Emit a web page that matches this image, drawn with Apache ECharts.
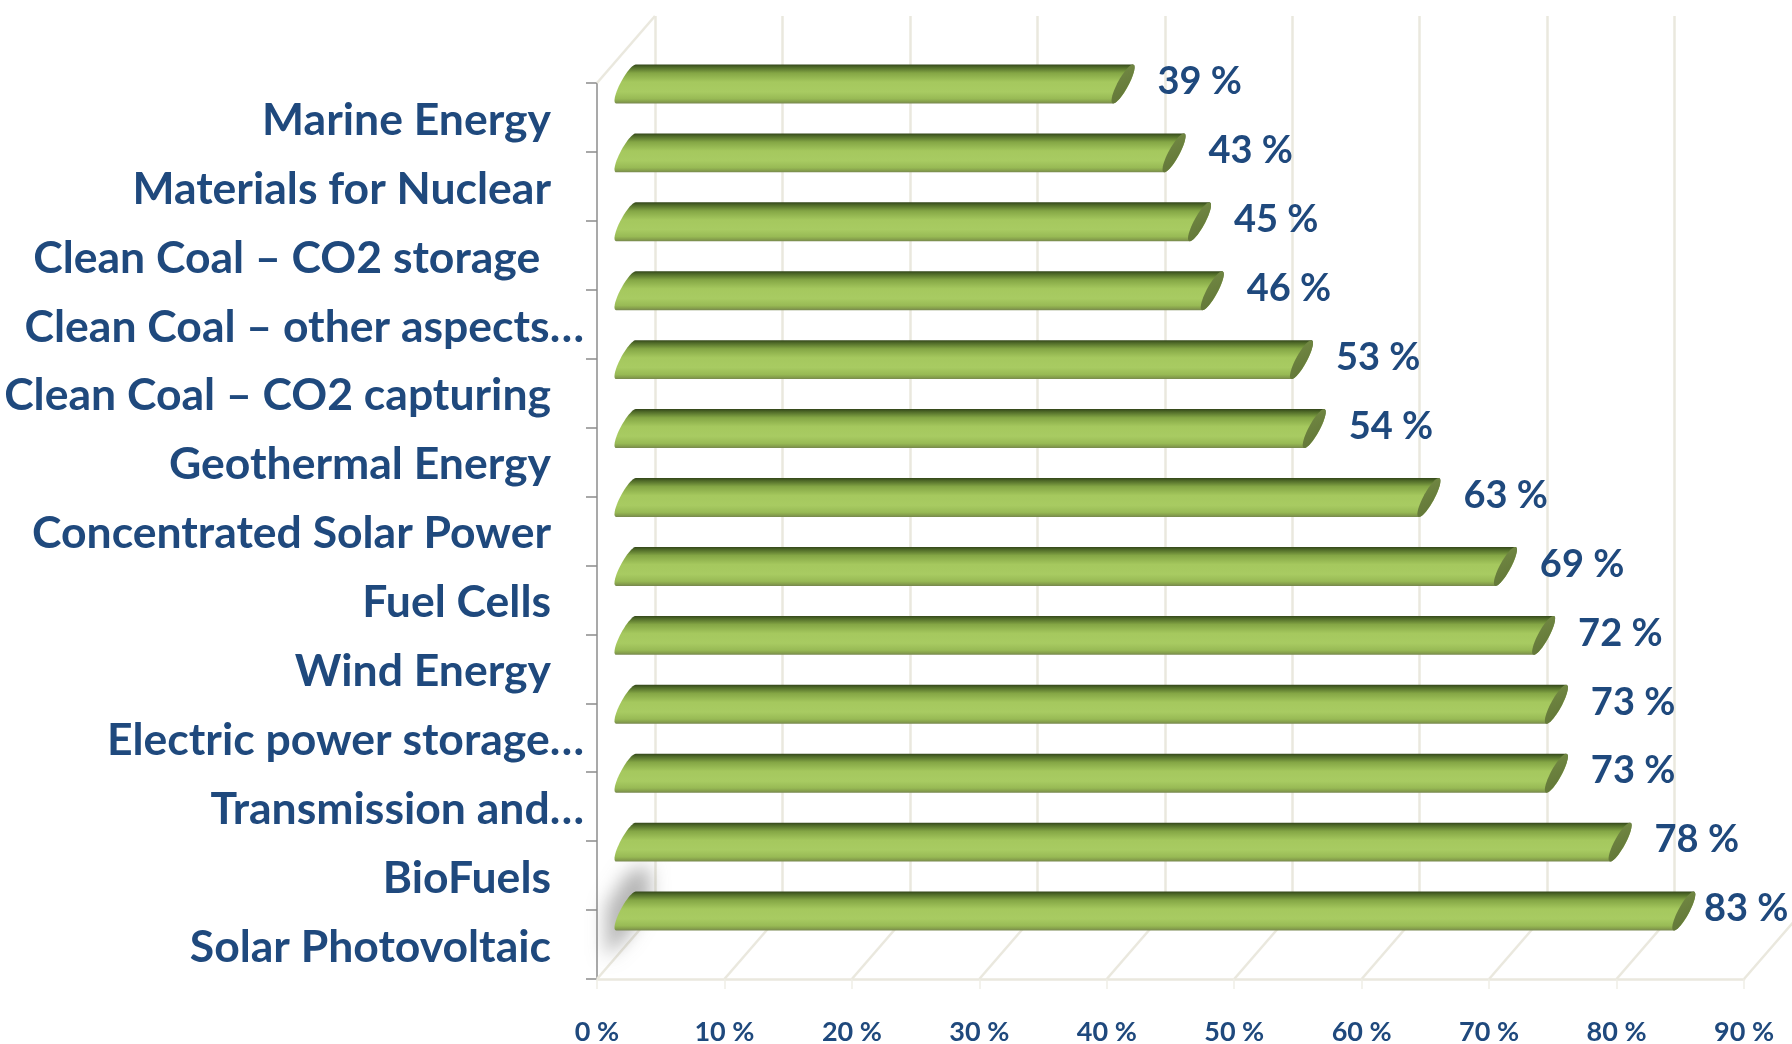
<!DOCTYPE html>
<html>
<head>
<meta charset="utf-8">
<script src="https://cdn.jsdelivr.net/npm/echarts@6/dist/echarts.min.js"></script>
<style>
html,body{margin:0;padding:0;background:#ffffff;}
#chart{width:1792px;height:1044px;}
</style>
</head>
<body>
<div id="chart"></div>
<script>
// ---------- data ----------
const categories = [
  'Marine Energy',
  'Materials for Nuclear',
  'Clean Coal – CO2 storage ',
  'Clean Coal – other aspects…',
  'Clean Coal – CO2 capturing',
  'Geothermal Energy',
  'Concentrated Solar Power',
  'Fuel Cells',
  'Wind Energy',
  'Electric power storage…',
  'Transmission and…',
  'BioFuels',
  'Solar Photovoltaic'
];
const values = [39, 43, 45, 46, 53, 54, 63, 69, 72, 73, 73, 78, 83];
const xTicks = [0, 10, 20, 30, 40, 50, 60, 70, 80, 90];
const xMin = 0, xMax = 90, xStep = 10;

// ---------- layout / style ----------
const FRONT = {left: 597, top: 83, width: 1147, height: 896};
const DEPTH_X = 58, DEPTH_Y = -67;          // full depth offset of the back wall
const TEXT_BLUE = '#1F497D';
const GRID_BEIGE = '#EAE8DE';
const FONT = 'Lato';

function gridAt(k) {
  return {
    left: FRONT.left + DEPTH_X * k,
    top: FRONT.top + DEPTH_Y * k,
    width: FRONT.width,
    height: FRONT.height,
    outerBoundsMode: 'none',
    containLabel: false
  };
}

const chart = echarts.init(document.getElementById('chart'), null, {renderer: 'canvas'});

const bodyGradient = new echarts.graphic.LinearGradient(0, 0, 0, 1, [
  {offset: 0.00, color: '#33461a'},
  {offset: 0.07, color: '#4f6a28'},
  {offset: 0.22, color: '#84a645'},
  {offset: 0.45, color: '#a5c85e'},
  {offset: 0.70, color: '#a8cb62'},
  {offset: 0.88, color: '#98ba55'},
  {offset: 0.95, color: '#86a04c'},
  {offset: 1.00, color: '#77874f'}
]);
const capGradient = new echarts.graphic.LinearGradient(0, 0, 1, 1, [
  {offset: 0, color: '#748b45'},
  {offset: 1, color: '#5f7335'}
]);

function renderBar(params, api) {
  const v = api.value(0), c = api.value(1);
  const p0 = api.coord([xMin, c]);
  const p1 = api.coord([v, c]);
  const band = api.size([0, 1])[1];
  const R = band * 0.565 / 2;
  const A = 11.5;
  const C = -0.85 * R;
  const B = Math.sqrt(R * R - C * C);
  const tt = Math.atan2(-B, -C);
  const N = 24;
  const pts = [];
  for (let i = 0; i <= N; i++) {
    const t = tt - Math.PI * i / N;
    pts.push([p0[0] + A * Math.cos(t), p0[1] + B * Math.sin(t) + C * Math.cos(t)]);
  }
  for (let i = 0; i <= N; i++) {
    const t = tt + Math.PI - Math.PI * i / N;
    pts.push([p1[0] + A * Math.cos(t), p1[1] + B * Math.sin(t) + C * Math.cos(t)]);
  }
  const cap = [];
  for (let i = 0; i < 48; i++) {
    const t = 2 * Math.PI * i / 48;
    cap.push([p1[0] + A * Math.cos(t), p1[1] + B * Math.sin(t) + C * Math.cos(t)]);
  }
  const labelX = Math.min(p1[0] + A + 23, api.getWidth() - 88);
  return {
    type: 'group',
    children: [
      {type: 'polygon', shape: {points: pts}, style: {fill: bodyGradient}},
      {type: 'polygon', shape: {points: cap}, style: {fill: capGradient}},
      {
        type: 'text',
        style: {
          text: v + ' %',
          x: labelX,
          y: p1[1] - 2,
          verticalAlign: 'middle',
          align: 'left',
          fill: TEXT_BLUE,
          font: 'bold 38px ' + FONT
        }
      }
    ]
  };
}

function renderFloor(params, api) {
  const v = api.value(0);
  const cs = params.coordSys;
  const x = api.coord([v, 0])[0];
  const yb = cs.y + cs.height;
  const children = [{
    type: 'line',
    shape: {x1: x, y1: yb, x2: x + DEPTH_X, y2: yb + DEPTH_Y},
    style: {stroke: GRID_BEIGE, lineWidth: 2.5}
  }];
  if (v === xMin) {
    // left wall top edge
    children.push({
      type: 'line',
      shape: {x1: x, y1: cs.y, x2: x + DEPTH_X, y2: cs.y + DEPTH_Y},
      style: {stroke: GRID_BEIGE, lineWidth: 2.5}
    });
    // soft shadow on the left wall (drawn off-screen, only its blurred shadow shows)
    const off = 4000;
    const sh = [[9, -22], [9, -72], [30, -106], [52, -114], [54, -82], [30, -42]]
      .map(p => [x + p[0] + off, yb + p[1]]);
    children.push({
      type: 'polygon',
      shape: {points: sh},
      style: {
        fill: '#777',
        shadowBlur: 18,
        shadowColor: 'rgba(110,110,110,0.5)',
        shadowOffsetX: -off,
        shadowOffsetY: 0
      }
    });
  }
  return {type: 'group', children: children};
}

const option = {
  backgroundColor: '#ffffff',
  animation: false,
  grid: [gridAt(0), gridAt(0.5), gridAt(1)],
  xAxis: [
    {
      gridIndex: 0, type: 'value', min: xMin, max: xMax, interval: xStep,
      axisLine: {show: true, lineStyle: {color: GRID_BEIGE, width: 2.5}},
      axisTick: {show: true, length: 10, lineStyle: {color: '#F0EEE6', width: 1.5}},
      splitLine: {show: false},
      axisLabel: {
        show: true, margin: 40, showMinLabel: true, showMaxLabel: true,
        formatter: v => v + ' %',
        color: TEXT_BLUE, fontFamily: FONT, fontWeight: 'bold', fontSize: 27
      }
    },
    {gridIndex: 1, type: 'value', min: xMin, max: xMax, interval: xStep, show: false},
    {
      gridIndex: 2, type: 'value', min: xMin, max: xMax, interval: xStep, show: true,
      axisLine: {show: false}, axisTick: {show: false}, axisLabel: {show: false},
      splitLine: {show: true, lineStyle: {color: GRID_BEIGE, width: 2.5}}
    }
  ],
  yAxis: [
    {
      gridIndex: 0, type: 'category', inverse: true, data: categories,
      axisLine: {show: true, lineStyle: {color: '#8C8C8C', width: 1.5}},
      axisTick: {show: true, length: 11, lineStyle: {color: '#8C8C8C', width: 1.5}},
      splitLine: {show: false},
      axisLabel: {
        show: true, margin: 13, interval: 0,
        formatter: function (val) {
          return val.endsWith('…') ? '{t|' + val + '}' : '{t|' + val + '}{s| }';
        },
        rich: {
          t: {color: TEXT_BLUE, fontFamily: FONT, fontWeight: 'bold', fontSize: 44.5, padding: [6, 0, 0, 0]},
          s: {width: 33, fontSize: 44.5, fontFamily: FONT}
        }
      }
    },
    {gridIndex: 1, type: 'category', inverse: true, data: categories, show: false},
    {gridIndex: 2, type: 'category', inverse: true, data: categories, show: false}
  ],
  series: [
    {
      type: 'custom', name: 'floor', xAxisIndex: 0, yAxisIndex: 0, clip: false, z: 1,
      silent: true,
      renderItem: renderFloor,
      data: xTicks.map(v => [v, 0])
    },
    {
      type: 'custom', name: 'share', xAxisIndex: 1, yAxisIndex: 1, clip: false, z: 3,
      renderItem: renderBar,
      data: values.map((v, i) => [v, i])
    }
  ]
};
chart.setOption(option);
</script>
</body>
</html>
